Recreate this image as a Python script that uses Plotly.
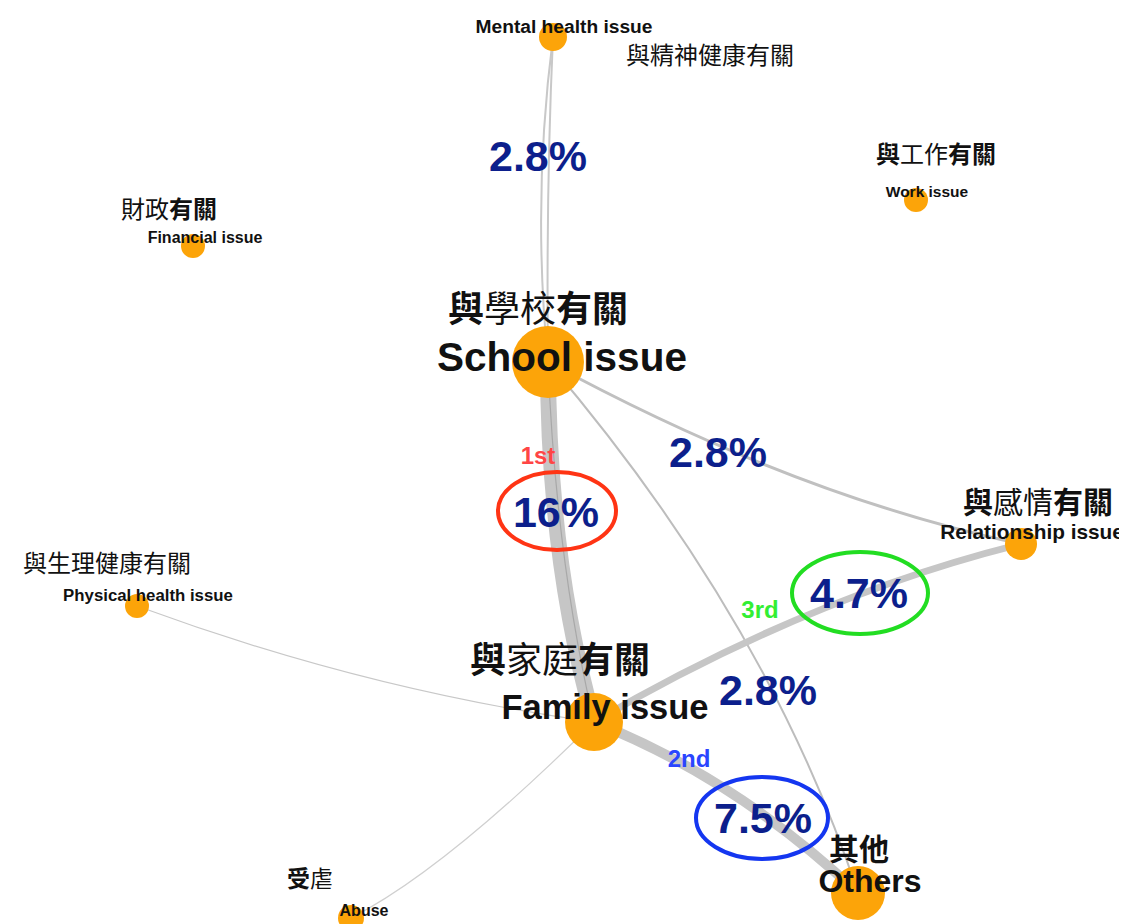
import plotly.graph_objects as go

W, H = 1127, 924
PAD = 8  # page body margin that the html adds around the plot

# nodes (positions in the picture's own coordinate frame)
node_names = ["Mental", "Financial", "Work", "School", "Relationship",
              "Physical", "Family", "Others", "Abuse"]
node_x = [553, 193, 916, 548, 1021, 137, 594, 858, 351]
node_y = [37, 246, 200, 362, 544, 606, 722, 893, 918]
node_size = [28, 24, 24, 72, 32, 24, 58, 54, 26]

en_labels = ["Mental health issue", "Financial issue", "Work issue", "School issue",
             "Relationship issue", "Physical health issue", "Family issue", "Others", "Abuse"]
en_x = [564, 205, 927, 562, 1032, 148, 605, 870, 364]
en_y = [28, 239, 193, 361, 534, 597, 710, 884, 912]
en_size = [19.2, 16, 15.5, 40.5, 20.8, 16.8, 34.5, 32, 16]

zh_labels = ["與精神健康有關", "財政<b>有關</b>", "<b>與</b>工作<b>有關</b>",
             "<b>與</b>學校<b>有關</b>", "<b>與</b>感情<b>有關</b>", "與生理健康有關",
             "<b>與</b>家庭<b>有關</b>", "<b>其他</b>", "<b>受</b>虐"]
zh_x = [710, 169, 936, 538, 1038, 107, 560, 859, 310]
zh_y = [58, 212, 157, 313, 505, 566, 664, 852, 881]
zh_size = [24, 24, 24, 36, 30, 24, 36, 30, 23]

# edges: source, target, curve control point, width, colour
edge_src = ["Mental", "Mental", "School", "School", "School", "School",
            "Family", "Family", "Family", "Family"]
edge_dst = ["School", "School", "Family", "Family", "Relationship", "Others",
            "Relationship", "Others", "Physical", "Abuse"]
edge_cx = [532, 546, 548, 556, 795, 768, 808, 736, 365, 445]
edge_cy = [200, 190, 560, 560, 496, 620, 597, 778, 690, 870]
edge_w = [2, 2, 16, 1.2, 3, 2, 7, 10, 1.2, 1.2]
edge_col = ["#c8c8c8", "#c8c8c8", "#c6c6c6", "#a8a8a8", "#c0c0c0", "#bdbdbd",
            "#c6c6c6", "#c6c6c6", "#c8c8c8", "#d0d0d0"]

pct_text = ["2.8%", "16%", "2.8%", "4.7%", "2.8%", "7.5%"]
pct_x = [538, 556, 718, 859, 768, 763]
pct_y = [160, 516, 456, 597, 694, 822]

rank_text = ["1st", "2nd", "3rd"]
rank_x = [538, 689, 760]
rank_y = [458, 761, 612]
rank_col = ["#ff4545", "#2a45ff", "#33ee33"]

ell_x = [557, 860, 762]
ell_y = [511, 593, 818]
ell_rx = [59, 68, 66]
ell_ry = [39, 41, 41]
ell_col = ["#ff3414", "#22dd22", "#1436f0"]

pos = {n: (x, y) for n, x, y in zip(node_names, node_x, node_y)}

fig = go.Figure()

shapes = []
for s, d, cx, cy, w, c in zip(edge_src, edge_dst, edge_cx, edge_cy, edge_w, edge_col):
    x0, y0 = pos[s]
    x1, y1 = pos[d]
    shapes.append(dict(type="path", xref="x", yref="y", layer="below",
                       path=f"M {x0},{y0} Q {cx},{cy} {x1},{y1}",
                       line=dict(color=c, width=w)))
for x, y, rx, ry, c in zip(ell_x, ell_y, ell_rx, ell_ry, ell_col):
    shapes.append(dict(type="circle", xref="x", yref="y", layer="above",
                       x0=x - rx, x1=x + rx, y0=y - ry, y1=y + ry,
                       line=dict(color=c, width=4)))

fig.add_trace(go.Scatter(
    x=node_x, y=node_y, mode="markers", hoverinfo="skip",
    marker=dict(color="#fca409", size=node_size, opacity=1, line=dict(width=0)),
))

fig.add_trace(go.Scatter(
    x=en_x, y=en_y, mode="text", text=en_labels, textposition="middle center",
    textfont=dict(family="Liberation Sans", weight="bold", size=en_size, color="#111111"),
    hoverinfo="skip",
))

fig.add_trace(go.Scatter(
    x=zh_x, y=zh_y, mode="text", text=zh_labels, textposition="middle center",
    textfont=dict(family="Noto Sans CJK TC", size=zh_size, color="#111111"),
    hoverinfo="skip",
))

fig.add_trace(go.Scatter(
    x=pct_x, y=pct_y, mode="text", text=pct_text, textposition="middle center",
    textfont=dict(family="Liberation Sans", weight="bold", size=43, color="#0c1f8c"),
    hoverinfo="skip",
))

fig.add_trace(go.Scatter(
    x=rank_x, y=rank_y, mode="text", text=rank_text, textposition="middle center",
    textfont=dict(family="Liberation Sans", weight="bold", size=24, color=rank_col),
    hoverinfo="skip",
))

fig.update_layout(
    width=W, height=H,
    margin=dict(l=0, r=0, t=0, b=0),
    paper_bgcolor="white", plot_bgcolor="white",
    showlegend=False,
    shapes=shapes,
    xaxis=dict(range=[PAD, W + PAD], visible=False, fixedrange=True),
    yaxis=dict(range=[H + PAD, PAD], visible=False, fixedrange=True),
)

fig.write_html("out.html")
